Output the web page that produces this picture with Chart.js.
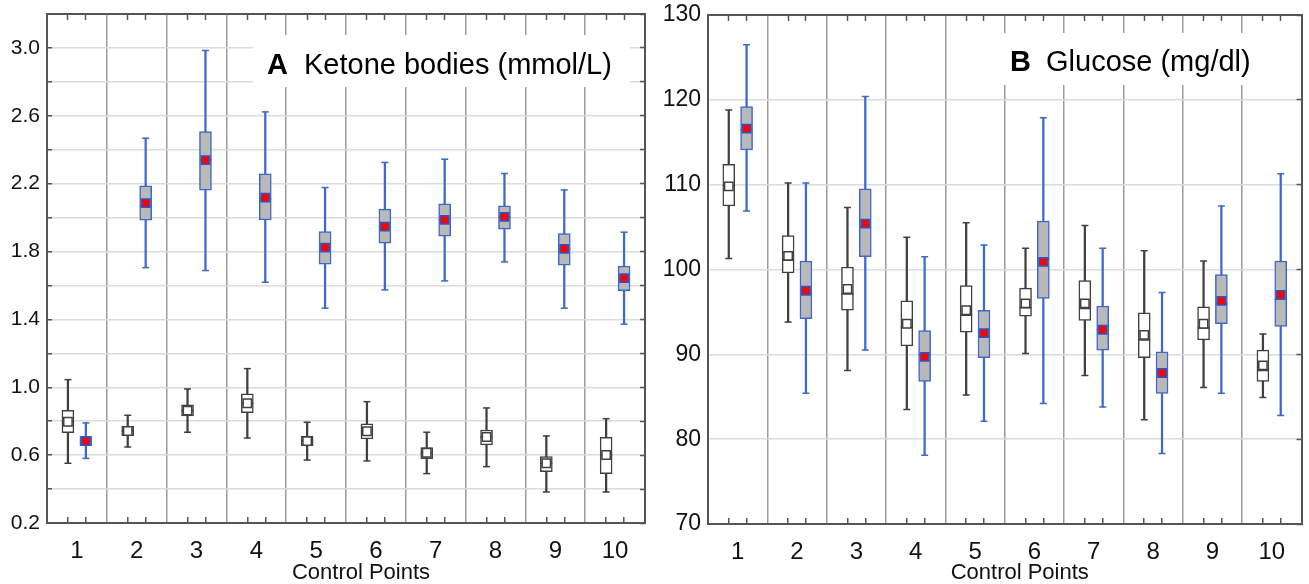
<!DOCTYPE html>
<html>
<head>
<meta charset="utf-8">
<script src="https://cdn.jsdelivr.net/npm/chart.js@4.4.1/dist/chart.umd.min.js"></script>
<style>
html,body{margin:0;padding:0;background:#ffffff;}
#wrap{position:relative;width:1309px;height:584px;overflow:hidden;background:#fff;}
#cA{position:absolute;left:0;top:0;}
#cB{position:absolute;left:655px;top:0;}
</style>
</head>
<body>
<div id="wrap">
<canvas id="cA" width="655" height="584"></canvas>
<canvas id="cB" width="654" height="584"></canvas>
</div>
<script>
// ---------------- DATA ----------------
const controlPoints = ['1','2','3','4','5','6','7','8','9','10'];
const xAxisTitle = 'Control Points';

// Panel A: Ketone bodies (mmol/L)
const ketoneGridValues  = [0.2,0.4,0.6,0.8,1.0,1.2,1.4,1.6,1.8,2.0,2.2,2.4,2.6,2.8,3.0,3.2];
const ketoneLabelValues = [0.2,0.6,1.0,1.4,1.8,2.2,2.6,3.0];
// white boxes
const ketoneWhiteMin    = [0.552,0.648,0.735,0.701,0.571,0.566,0.491,0.532,0.383,0.383];
const ketoneWhiteQ1     = [0.732,0.715,0.831,0.850,0.656,0.695,0.579,0.660,0.502,0.491];
const ketoneWhiteMedian = [0.800,0.742,0.862,0.906,0.683,0.741,0.614,0.707,0.552,0.601];
const ketoneWhiteQ3     = [0.864,0.770,0.896,0.961,0.713,0.785,0.644,0.748,0.591,0.705];
const ketoneWhiteMax    = [1.045,0.835,0.990,1.110,0.794,0.915,0.735,0.878,0.713,0.815];
const ketoneWhiteMean   = [0.797,0.742,0.862,0.906,0.683,0.741,0.614,0.707,0.552,0.601];
// gray boxes
const ketoneGrayMin     = [0.581,1.705,1.688,1.619,1.466,1.574,1.627,1.739,1.466,1.372];
const ketoneGrayQ1      = [0.656,1.985,2.162,1.987,1.725,1.849,1.890,1.932,1.719,1.570];
const ketoneGrayMedian  = [0.683,2.070,2.339,2.110,1.823,1.947,1.987,2.004,1.816,1.643];
const ketoneGrayQ3      = [0.713,2.187,2.507,2.258,1.918,2.050,2.081,2.069,1.906,1.714];
const ketoneGrayMax     = [0.790,2.468,2.985,2.623,2.177,2.325,2.344,2.260,2.163,1.914];
const ketoneGrayMean    = [0.683,2.085,2.339,2.118,1.823,1.947,1.987,2.004,1.816,1.643];

// Panel B: Glucose (mg/dl)
const glucoseGridValues  = [70,80,90,100,110,120,130];
const glucoseLabelValues = [70,80,90,100,110,120,130];
const glucoseWhiteMin    = [101.3,93.8,88.1,83.5,85.2,90.1,87.5,82.3,86.1,84.9];
const glucoseWhiteQ1     = [107.5,99.6,95.2,91.0,92.6,94.5,94.0,89.6,91.7,86.8];
const glucoseWhiteMedian = [109.9,101.1,97.1,93.2,94.6,95.5,95.4,91.7,93.1,88.1];
const glucoseWhiteQ3     = [112.4,104.0,100.3,96.3,98.1,97.8,98.7,94.9,95.6,90.5];
const glucoseWhiteMax    = [118.8,110.2,107.3,103.8,105.5,102.5,105.2,102.2,101.0,92.4];
const glucoseWhiteMean   = [109.8,101.6,97.7,93.6,95.2,96.0,96.0,92.3,93.6,88.7];
const glucoseGrayMin     = [106.9,85.4,90.5,78.1,82.1,84.2,83.8,78.3,85.4,82.8];
const glucoseGrayQ1      = [114.1,94.2,101.5,86.8,89.6,96.6,90.5,85.4,93.6,93.3];
const glucoseGrayMedian  = [116.4,97.3,105.0,89.9,92.5,101.3,92.9,88.0,96.0,96.5];
const glucoseGrayQ3      = [119.2,101.0,109.5,92.8,95.2,105.7,95.7,90.3,99.4,101.0];
const glucoseGrayMax     = [126.5,110.2,120.4,101.5,102.9,117.9,102.5,97.3,107.5,111.3];
const glucoseGrayMean    = [116.6,97.5,105.4,89.7,92.5,100.9,92.9,87.8,96.3,97.0];

// ---------------- STYLE ----------------
const FONT = '"Liberation Sans", Arial, Helvetica, sans-serif';
Chart.defaults.font.family = FONT;
Chart.defaults.color = '#111';

const groupStyles = [
  {line:'#404040', fill:'#ffffff', meanFill:'#ffffff', meanBorder:'#404040', offset:-0.15},
  {line:'#3d68cc', fill:'#b9b9b9', meanFill:'#ff0000', meanBorder:'#2f55c0', offset: 0.15}
];
const AXIS_COLOR = '#555555';
const SEP_COLOR = '#9c9c9c';
const HGRID_COLOR = '#dcdcdc';
const NONE = 'rgba(0,0,0,0)';

const panelTitlePlugin = {
  id: 'panelTitle',
  beforeDatasetsDraw(chart, args, o) {
    const {ctx, chartArea: ca} = chart;
    ctx.save();
    ctx.fillStyle = '#ffffff';
    ctx.fillRect(ca.left + o.box[0], ca.top + o.box[1], o.box[2], o.box[3]);
    ctx.fillStyle = '#000000';
    ctx.textBaseline = 'alphabetic';
    ctx.textAlign = 'left';
    ctx.font = 'bold 29px ' + FONT;
    ctx.fillText(o.letter, ca.left + o.letterX, ca.top + o.baseline);
    ctx.font = '29px ' + FONT;
    ctx.fillText(o.text, ca.left + o.textX, ca.top + o.baseline);
    ctx.restore();
  },
  afterDraw(chart, args, o) {
    const {ctx, chartArea: ca} = chart;
    ctx.save();
    ctx.fillStyle = '#111111';
    ctx.textBaseline = 'alphabetic';
    ctx.textAlign = 'center';
    ctx.font = '22px ' + FONT;
    ctx.fillText(o.axisTitle, (ca.left + ca.right) / 2 + o.axisTitleShift, ca.bottom + o.axisTitleBaseline);
    ctx.restore();
  }
};

function fixSize(w, h) {
  return s => {
    if (w !== null) s.width = w;
    if (h !== null) s.height = h;
    s.paddingTop = 0; s.paddingBottom = 0; s.paddingLeft = 0; s.paddingRight = 0;
  };
}

function buildPanel(canvasId, p) {
  const positions = p.categories.map((c, i) => i + 1);
  const groups = [p.white, p.gray];
  const datasets = [];
  groups.forEach((g, gi) => {
    const st = groupStyles[gi];
    const xs = positions.map(v => v + st.offset);
    datasets.push({
      type: 'bar', order: 20 - gi, grouped: false, barThickness: 1.6,
      backgroundColor: st.line, borderWidth: 0,
      data: xs.map((x, i) => ({x, y: [g.min[i], g.max[i]]}))
    });
    datasets.push({
      type: 'bar', order: 15 - gi, grouped: false, barThickness: 12,
      backgroundColor: st.fill, borderColor: st.line, borderWidth: 1.5, borderSkipped: false,
      data: xs.map((x, i) => ({x, y: [g.q1[i], g.q3[i]]}))
    });
    datasets.push({
      type: 'line', order: 10 - gi, showLine: false, pointStyle: 'line',
      pointRadius: 3.5, pointBorderWidth: 1.5, pointBorderColor: st.line, pointBackgroundColor: st.line,
      data: xs.flatMap((x, i) => [{x, y: g.min[i]}, {x, y: g.max[i]}])
    });
    datasets.push({
      type: 'line', order: 8 - gi, showLine: false, pointStyle: 'line',
      pointRadius: 6, pointBorderWidth: 1.5, pointBorderColor: st.line, pointBackgroundColor: st.line,
      data: xs.map((x, i) => ({x, y: g.median[i]}))
    });
    datasets.push({
      type: 'line', order: 5 - gi, showLine: false, pointStyle: 'rect',
      pointRadius: 5.9, pointBorderWidth: 1.5, pointBorderColor: st.meanBorder, pointBackgroundColor: st.meanFill,
      data: xs.map((x, i) => ({x, y: g.mean[i]}))
    });
  });

  // x tick positions: category boundaries, box positions, category centers
  const xTickValues = [0.5];
  positions.forEach(v => { xTickValues.push(v - 0.15, v, v + 0.15, v + 0.5); });
  const kind = v => {
    if (v === undefined || v === null) return 'none';
    const f = Math.round((v - Math.floor(v)) * 100);
    if (f === 50) return (v <= 0.5 || v >= positions.length + 0.5) ? 'edge' : 'sep';
    if (f === 0) return 'label';
    return 'box';
  };
  const tv = c => (c && c.tick) ? c.tick.value : undefined;
  const setX = s => { s.ticks = xTickValues.map(v => ({value: v})); };
  const setY = s => { s.ticks = p.gridValues.map(v => ({value: v})); };
  const isLabel = v => p.labelValues.some(l => Math.abs(l - v) < 1e-9);

  const cfg = {
    type: 'bar',
    data: {datasets},
    plugins: [panelTitlePlugin],
    options: {
      responsive: false, animation: false, events: [],
      layout: {padding: {left: 0, right: p.padRight, top: p.padTop, bottom: 0}},
      plugins: {
        legend: {display: false}, tooltip: {enabled: false},
        panelTitle: p.title
      },
      scales: {
        x: {
          type: 'linear', position: 'bottom', min: 0.5, max: positions.length + 0.5, offset: false,
          afterBuildTicks: setX,
          afterFit: fixSize(null, p.xAxisHeight),
          ticks: {
            autoSkip: false, maxRotation: 0, minRotation: 0, padding: 20,
            font: {size: 24}, color: '#111',
            callback: v => kind(v) === 'label' ? p.categories[Math.round(v) - 1] : ''
          },
          grid: {
            offset: false,
            drawOnChartArea: true, drawTicks: true, tickLength: -6, tickWidth: 1.5, lineWidth: 1.5,
            color: c => kind(tv(c)) === 'sep' ? SEP_COLOR : NONE,
            tickColor: c => kind(tv(c)) === 'box' ? AXIS_COLOR : NONE
          },
          border: {display: true, color: AXIS_COLOR, width: 2}
        },
        xTop: {
          type: 'linear', position: 'top', min: 0.5, max: positions.length + 0.5, offset: false,
          afterBuildTicks: setX,
          afterFit: fixSize(null, 0),
          ticks: {display: false, autoSkip: false},
          grid: {
            offset: false,
            drawOnChartArea: false, drawTicks: true, tickLength: -6, tickWidth: 1.5,
            color: NONE,
            tickColor: c => kind(tv(c)) === 'box' ? AXIS_COLOR : NONE
          },
          border: {display: true, color: AXIS_COLOR, width: 2}
        },
        y: {
          type: 'linear', position: 'left', min: p.gridValues[0], max: p.gridValues[p.gridValues.length - 1],
          afterBuildTicks: setY,
          afterFit: fixSize(p.yAxisWidth, null),
          ticks: {
            autoSkip: false, padding: 12, font: {size: p.yFontSize}, color: '#111',
            callback: v => isLabel(v) ? v.toFixed(p.decimals) : ''
          },
          grid: {
            z: -1, drawOnChartArea: true, drawTicks: true, tickLength: -5, tickWidth: 1.5, lineWidth: 1.5,
            color: HGRID_COLOR, tickColor: p.leftTicks ? AXIS_COLOR : NONE
          },
          border: {display: true, color: AXIS_COLOR, width: 2}
        },
        yRight: {
          type: 'linear', position: 'right', min: p.gridValues[0], max: p.gridValues[p.gridValues.length - 1],
          afterBuildTicks: setY,
          afterFit: fixSize(0, null),
          ticks: {display: false, autoSkip: false},
          grid: {
            z: -1, drawOnChartArea: false, drawTicks: true, tickLength: -5, tickWidth: 1.5,
            color: NONE, tickColor: AXIS_COLOR
          },
          border: {display: true, color: AXIS_COLOR, width: 2}
        }
      }
    }
  };
  return new Chart(document.getElementById(canvasId), cfg);
}

buildPanel('cA', {
  categories: controlPoints,
  gridValues: ketoneGridValues, labelValues: ketoneLabelValues, decimals: 1,
  white: {min: ketoneWhiteMin, q1: ketoneWhiteQ1, median: ketoneWhiteMedian, q3: ketoneWhiteQ3, max: ketoneWhiteMax, mean: ketoneWhiteMean},
  gray:  {min: ketoneGrayMin,  q1: ketoneGrayQ1,  median: ketoneGrayMedian,  q3: ketoneGrayQ3,  max: ketoneGrayMax,  mean: ketoneGrayMean},
  yAxisWidth: 47, xAxisHeight: 61, padRight: 10, padTop: 14, yFontSize: 21, leftTicks: true,
  title: {letter: 'A', text: 'Ketone bodies (mmol/L)', box: [206, 21, 377, 52], letterX: 220, textX: 257, baseline: 59.5,
          axisTitle: xAxisTitle, axisTitleShift: 15, axisTitleBaseline: 56}
});

buildPanel('cB', {
  categories: controlPoints,
  gridValues: glucoseGridValues, labelValues: glucoseLabelValues, decimals: 0,
  white: {min: glucoseWhiteMin, q1: glucoseWhiteQ1, median: glucoseWhiteMedian, q3: glucoseWhiteQ3, max: glucoseWhiteMax, mean: glucoseWhiteMean},
  gray:  {min: glucoseGrayMin,  q1: glucoseGrayQ1,  median: glucoseGrayMedian,  q3: glucoseGrayQ3,  max: glucoseGrayMax,  mean: glucoseGrayMean},
  yAxisWidth: 53, xAxisHeight: 60, padRight: 2, padTop: 15, yFontSize: 23, leftTicks: false,
  title: {letter: 'B', text: 'Glucose (mg/dl)', box: [288, 18, 296, 52], letterX: 302, textX: 338, baseline: 56,
          axisTitle: xAxisTitle, axisTitleShift: 15, axisTitleBaseline: 55}
});
</script>
</body>
</html>
